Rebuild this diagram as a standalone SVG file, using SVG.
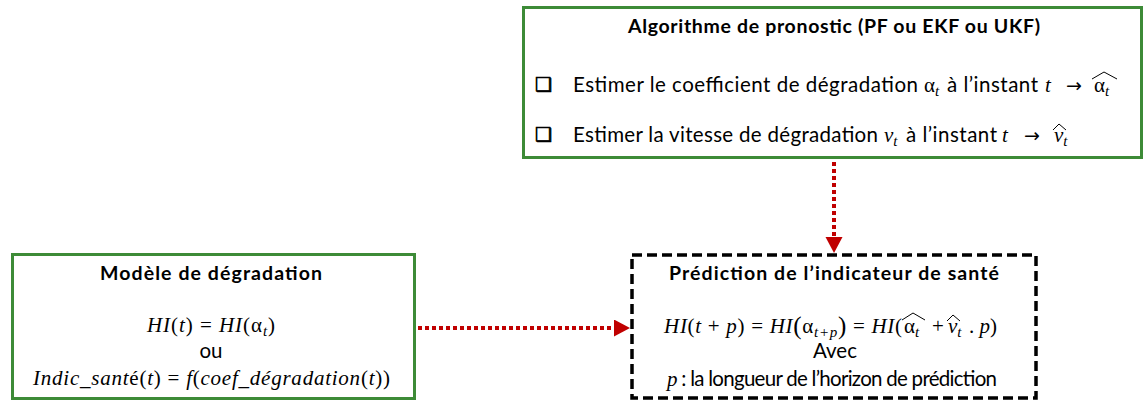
<svg xmlns="http://www.w3.org/2000/svg" width="1144" height="402" viewBox="0 0 1144 402">
<style>
.gbox{fill:#fff;stroke:#3d8b37;stroke-width:3}
.dbox{fill:#fff;stroke:#000;stroke-width:3.5;stroke-dasharray:10 5}
.ttl{font-family:Lato,"Liberation Sans",sans-serif;font-weight:bold;font-size:19.5px;fill:#000}
.body{font-family:Lato,"Liberation Sans",sans-serif;font-size:20.5px;fill:#000}
.m{font-family:"Liberation Serif",serif;font-style:normal;font-size:21px;fill:#000}
.mi{font-family:"Liberation Serif",serif;font-style:italic;font-size:21px;fill:#000}
.arr{font-family:"DejaVu Sans",sans-serif;font-size:19px;fill:#000}
.big{font-family:"Liberation Serif",serif;font-style:normal;font-size:25px}
.sub{font-family:"Liberation Serif",serif;font-style:italic;font-size:15px}
.chk{font-family:"DejaVu Sans",sans-serif;font-size:19px;fill:#000;stroke:#000;stroke-width:0.7}
.conn{stroke:#c00000;stroke-width:4;stroke-dasharray:4 3;fill:none}
.hat{fill:none;stroke:#000;stroke-width:1}
</style>
<defs>
<marker id="ah" markerUnits="userSpaceOnUse" markerWidth="16" markerHeight="18" refX="0" refY="8.5" orient="auto">
<path d="M0,0 L16,8.5 L0,17 Z" fill="#c00000"/>
</marker>
</defs>

<g id="connectors">
<line class="conn" x1="834" y1="162" x2="834" y2="237" marker-end="url(#ah)"/>
<line class="conn" x1="418" y1="328" x2="614" y2="328" marker-end="url(#ah)"/>
</g>

<g id="algo">
<rect class="gbox" x="523.5" y="7.5" width="618" height="150"/>
<text class="ttl" x="834" y="33" text-anchor="middle" textLength="412">Algorithme de pronostic (PF ou EKF ou UKF)</text>
<text class="chk" x="535" y="91">❑</text>
<text class="body" x="573" y="92" textLength="345">Estimer le coefficient de dégradation</text>
<text class="m" x="924" y="92">α<tspan class="sub" dy="4">t</tspan></text>
<text class="body" x="947" y="92" textLength="91">à l’instant</text>
<text class="mi" x="1045" y="92">t</text>
<text class="arr" x="1066" y="92">→</text>
<text class="m" x="1094" y="92">α<tspan class="sub" dy="4">t</tspan></text>
<polyline class="hat" points="1092,79 1104,72 1117,79"/>
<text class="chk" x="535" y="141">❑</text>
<text class="body" x="573" y="142" textLength="305">Estimer la vitesse de dégradation</text>
<text class="mi" x="884" y="142">v<tspan class="sub" dy="4">t</tspan></text>
<text class="body" x="906" y="142" textLength="91">à l’instant</text>
<text class="mi" x="1002" y="142">t</text>
<text class="arr" x="1024" y="142">→</text>
<text class="mi" x="1054" y="142">v<tspan class="sub" dy="4">t</tspan></text>
<polyline class="hat" points="1053,130 1059,124 1066,130"/>
</g>

<g id="modele">
<rect class="gbox" x="12.5" y="254.5" width="402" height="144"/>
<text class="ttl" x="211" y="280" text-anchor="middle" textLength="222">Modèle de dégradation</text>
<text class="mi" x="147" y="332" textLength="128">HI<tspan class="m">(</tspan>t<tspan class="m">) = </tspan>HI<tspan class="m">(α</tspan><tspan class="sub" dy="4">t</tspan><tspan class="m" dy="-4">)</tspan></text>
<text class="body" x="211" y="358" text-anchor="middle">ou</text>
<text class="mi" x="33" y="385" textLength="357">Indic_sant<tspan class="m">é(</tspan>t<tspan class="m">) = </tspan>f<tspan class="m">(</tspan>coef_dégradation<tspan class="m">(</tspan>t<tspan class="m">))</tspan></text>
</g>

<g id="prediction">
<rect class="dbox" x="632" y="255" width="404" height="143"/>
<text class="ttl" x="834" y="280" text-anchor="middle" textLength="330">Prédiction de l’indicateur de santé</text>
<text class="mi" x="664" y="333" textLength="238">HI<tspan class="m">(</tspan>t<tspan class="m"> + </tspan>p<tspan class="m">) = </tspan>HI<tspan class="big" dy="1">(</tspan><tspan class="m" dy="-1">α</tspan><tspan class="sub" dy="4">t+p</tspan><tspan class="big" dy="-3">)</tspan><tspan class="m" dy="-1"> = </tspan>HI<tspan class="m">(</tspan></text>
<text class="m" x="904" y="333">α<tspan class="sub" dy="4">t</tspan></text>
<polyline class="hat" points="902,320 913,313 925,320"/>
<text class="m" x="932" y="333">+</text>
<text class="mi" x="948" y="333">v<tspan class="sub" dy="4">t</tspan></text>
<polyline class="hat" points="947,321 953,315 960,321"/>
<text class="mi" x="969" y="333"><tspan class="m">. </tspan>p<tspan class="m">)</tspan></text>
<text class="body" x="835" y="358" text-anchor="middle">Avec</text>
<text class="body" x="667" y="386" textLength="330"><tspan class="mi">p</tspan> : la longueur de l’horizon de prédiction</text>
</g>
</svg>
